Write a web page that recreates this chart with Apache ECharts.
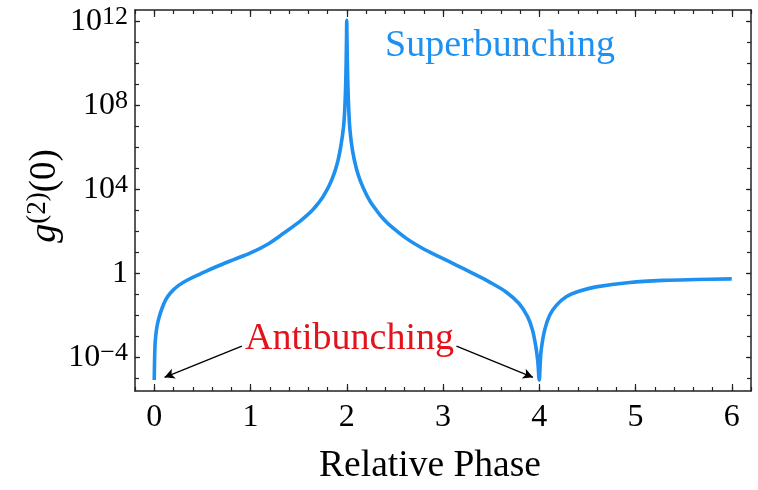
<!DOCTYPE html>
<html>
<head>
<meta charset="utf-8">
<script src="https://cdn.jsdelivr.net/npm/echarts@6/dist/echarts.min.js"></script>
<style>html,body{margin:0;padding:0;background:#fff}#c{width:758px;height:490px}</style>
</head>
<body>
<div id="c"></div>
<script>
// Relative phase values (x)
const phase = [
  0.000, 0.007, 0.015, 0.028, 0.05, 0.08, 0.12, 0.17, 0.25, 0.35, 0.48, 0.65, 0.82, 1.00,
  1.17, 1.34, 1.51, 1.58, 1.65, 1.69, 1.72, 1.755, 1.79, 1.82, 1.85, 1.88, 1.91, 1.94,
  1.967, 1.98, 1.99, 1.997, 2.000,
  2.003, 2.01, 2.02, 2.033, 2.06, 2.10, 2.142, 2.204, 2.25, 2.308, 2.37, 2.446, 2.619, 2.79, 2.964,
  3.137, 3.31, 3.48, 3.655, 3.79, 3.88, 3.93, 3.965, 3.985, 4.000,
  4.01, 4.02, 4.056, 4.108, 4.18, 4.28, 4.42, 4.59, 4.94, 5.29, 5.63, 6.00
];
// log10 of g2(0)
const log10g2 = [
  -5.08, -3.49, -3.0, -2.54, -2.1, -1.67, -1.25, -0.92, -0.58, -0.30, -0.02, 0.33, 0.65, 0.98,
  1.37, 1.9, 2.47, 2.74, 3.05, 3.26, 3.44, 3.67, 3.94, 4.21, 4.53, 4.91, 5.4, 6.1,
  7.0, 7.9, 9.2, 11.0, 12.06,
  11.0, 9.3, 7.9, 6.85, 5.85, 5.0, 4.4, 3.76, 3.38, 3.01, 2.65, 2.3, 1.67, 1.19, 0.79,
  0.40, 0.0, -0.40, -0.88, -1.43, -2.07, -2.7, -3.5, -4.2, -5.08,
  -4.3, -3.65, -2.7, -1.99, -1.51, -1.11, -0.84, -0.64, -0.43, -0.33, -0.29, -0.26
];
const xTickLabels = [0, 1, 2, 3, 4, 5, 6];
const yTickExponents = [-4, 0, 4, 8, 12];
const yMinorExponents = [-5,-4,-3,-2,-1,0,1,2,3,4,5,6,7,8,9,10,11,12];
// Arrow annotations: [fromX, fromY, toX, toY] in data units
const arrowLeft = [0.91, -3.46, 0.107, -4.95];
const arrowRight = [3.14, -3.46, 3.935, -4.95];

const FONT = '"Liberation Serif", "DejaVu Serif", serif';
const BLUE = '#1e90f0';
const RED = '#e3121b';
const AX = '#222';

const chart = echarts.init(document.getElementById('c'), null, {renderer: 'canvas'});
const gridRect = {left: 135, right: 7, top: 10, bottom: 99};
const grids = [0,1,2,3].map(() => Object.assign({}, gridRect));

function xAx(grid, pos, major, labels) {
  const a = {
    type: 'value', gridIndex: grid, position: pos, min: -0.2, max: 6.2,
    splitLine: {show: false},
    axisLine: {show: major, onZero: false, lineStyle: {color: AX, width: 1.5}},
    axisTick: major
      ? {show: true, inside: true, length: 7, customValues: xTickLabels, lineStyle: {color: AX, width: 1.2}}
      : {show: true, inside: true, length: 4, lineStyle: {color: AX, width: 1.2}},
    axisLabel: labels
      ? {show: true, customValues: xTickLabels, fontFamily: FONT, fontSize: 32, color: '#000', margin: 11}
      : {show: false}
  };
  if (!major) a.interval = 0.2;
  return a;
}
function yAx(grid, pos, major, labels) {
  return {
    type: 'value', gridIndex: grid, position: pos, min: -5.6, max: 12.55,
    splitLine: {show: false},
    axisLine: {show: major, onZero: false, lineStyle: {color: AX, width: 1.5}},
    axisTick: {show: true, inside: true, length: major ? 5 : 4,
      customValues: major ? yTickExponents : yMinorExponents, lineStyle: {color: AX, width: 1.2}},
    axisLabel: labels ? {
      show: true, customValues: yTickExponents, margin: 7,
      fontFamily: FONT, fontSize: 32, color: '#000', lineHeight: 34,
      formatter: function (v) {
        if (v === 0) return '1';
        const e = v < 0 ? '\u2212' + (-v) : String(v);
        return '10{sup|' + e + '}';
      },
      rich: {sup: {fontFamily: FONT, fontSize: 26, color: '#000', verticalAlign: 'top', lineHeight: 26}}
    } : {show: false}
  };
}

const data = phase.map((p, i) => [p, log10g2[i]]);

chart.setOption({
  animation: false,
  backgroundColor: '#fff',
  grid: grids,
  xAxis: [xAx(0, 'bottom', true, true), xAx(1, 'bottom', false, false), xAx(2, 'top', true, false), xAx(3, 'top', false, false)],
  yAxis: [yAx(0, 'left', true, true), yAx(1, 'left', false, false), yAx(2, 'right', true, false), yAx(3, 'right', false, false)],
  series: [{
    type: 'line', xAxisIndex: 0, yAxisIndex: 0, data: data,
    showSymbol: false, smooth: 0.35, clip: true,
    lineStyle: {color: BLUE, width: 3.6, cap: 'butt', join: 'round'},
    markLine: {
      silent: true, animation: false,
      symbol: ['none', 'arrow'], symbolSize: [8, 10],
      lineStyle: {color: '#000', width: 1.3, type: 'solid'},
      label: {show: false},
      emphasis: {disabled: true},
      data: [
        [{coord: [arrowLeft[0], arrowLeft[1]]}, {coord: [arrowLeft[2], arrowLeft[3]]}],
        [{coord: [arrowRight[0], arrowRight[1]]}, {coord: [arrowRight[2], arrowRight[3]]}]
      ]
    }
  }],
  graphic: [
    {type: 'text', x: 385, y: 46, style: {text: 'Superbunching', fill: BLUE, font: '38px ' + FONT, align: 'left', verticalAlign: 'middle'}},
    {type: 'text', x: 245, y: 339, style: {text: 'Antibunching', fill: RED, font: '38px ' + FONT, align: 'left', verticalAlign: 'middle'}},
    {type: 'text', x: 430, y: 466, style: {text: 'Relative Phase', fill: '#000', font: '37.5px ' + FONT, align: 'center', verticalAlign: 'middle'}},
    {type: 'text', x: 45, y: 196, rotation: Math.PI / 2,
      style: {
        text: '{g|g}{s|(2)}{n|(0)}', align: 'center', verticalAlign: 'middle',
        rich: {
          g: {fontFamily: FONT, fontStyle: 'italic', fontSize: 38, fill: '#000', lineHeight: 42},
          s: {fontFamily: FONT, fontSize: 27, fill: '#000', verticalAlign: 'top', lineHeight: 27},
          n: {fontFamily: FONT, fontSize: 37, fill: '#000', lineHeight: 42}
        }
      }}
  ]
});
</script>
</body>
</html>
